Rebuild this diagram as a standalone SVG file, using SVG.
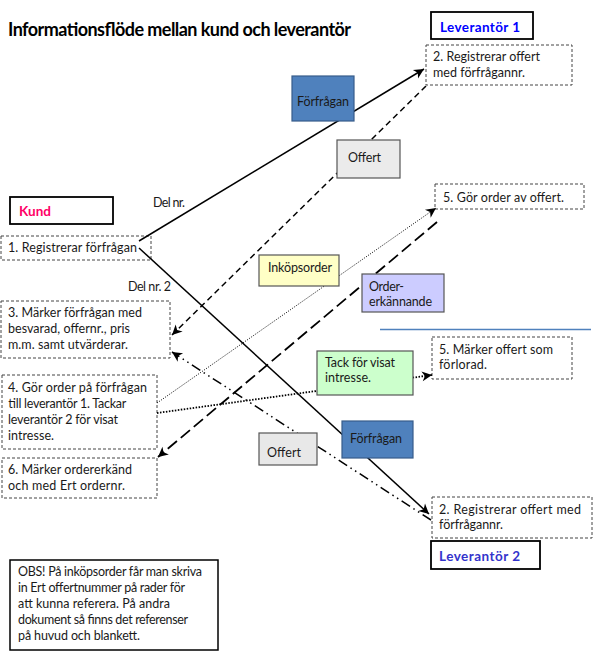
<svg xmlns="http://www.w3.org/2000/svg" width="596" height="657" viewBox="0 0 596 657">
<style>
text{font-family:Lato,"Liberation Sans","DejaVu Sans",sans-serif;font-size:12.5px;fill:#1a1a1a}
.title{font-size:18px;font-weight:bold;fill:#000}
.hdr{font-size:13.5px;font-weight:bold}
.tbox{fill:#fff;stroke:#444;stroke-width:1;stroke-dasharray:3 2}
.hbox{fill:#fff;stroke:#000;stroke-width:1.8}
.obs{fill:#fff;stroke:#000;stroke-width:1.5}
.c{fill:none;stroke:#000}
.lbl{stroke:#555;stroke-width:1.2}
</style>
<defs>
<marker id="ah" markerUnits="userSpaceOnUse" markerWidth="12" markerHeight="11" refX="10" refY="5" orient="auto" overflow="visible">
<path d="M0,0 L10,5 L0,10 L2.8,5 z" fill="#000"/>
</marker>
</defs>
<rect width="596" height="657" fill="#fff"/>
<text class="title" x="8" y="36" textLength="343">Informationsflöde mellan kund och leverantör</text>

<g id="leverantor1"><rect class="hbox" x="431" y="12" width="102" height="27"/><text class="hdr" x="440" y="31.5" style="fill:#0000ff" textLength="80">Leverantör 1</text></g>
<g id="l1-registrerar"><rect class="tbox" x="426" y="45" width="146" height="40"/><text x="433" y="61" textLength="107">2. Registrerar offert</text><text x="433" y="76.5" textLength="92">med förfrågannr.</text></g>
<g id="kund"><rect class="hbox" x="10" y="197" width="103" height="27"/><text class="hdr" x="19" y="215.5" style="fill:#ff0066" textLength="32">Kund</text></g>
<g id="k-registrerar"><rect class="tbox" x="1" y="236" width="150" height="24"/><text x="8" y="252" textLength="129">1. Registrerar förfrågan</text></g>
<g id="k-marker"><rect class="tbox" x="1" y="301" width="169" height="57"/><text x="8" y="317" textLength="134">3. Märker förfrågan med</text><text x="8" y="333" textLength="122">besvarad, offernr., pris</text><text x="8" y="349" textLength="120">m.m. samt utvärderar.</text></g>
<g id="k-order"><rect class="tbox" x="2" y="375" width="155" height="74"/><text x="8" y="392" textLength="139">4. Gör order på förfrågan</text><text x="8" y="408" textLength="118">till leverantör 1. Tackar</text><text x="8" y="424" textLength="110">leverantör 2 för visat</text><text x="8" y="440" textLength="46">intresse.</text></g>
<g id="k-ordererkand"><rect class="tbox" x="2" y="458" width="155" height="40"/><text x="8" y="474" textLength="124">6. Märker ordererkänd</text><text x="8" y="490" textLength="117">och med Ert ordernr.</text></g>
<g id="l1-order"><rect class="tbox" x="435" y="184" width="149" height="25"/><text x="443" y="201.5" textLength="121">5. Gör order av offert.</text></g>
<g id="l2-forlorad"><rect class="tbox" x="432" y="337" width="140" height="42"/><text x="439" y="354" textLength="114">5. Märker offert som</text><text x="439" y="369" textLength="48">förlorad.</text></g>
<g id="l2-registrerar"><rect class="tbox" x="432" y="497" width="160" height="41"/><text x="439" y="513.5" textLength="142">2. Registrerar offert med</text><text x="439" y="528.5" textLength="64">förfrågannr.</text></g>
<g id="leverantor2"><rect class="hbox" x="431" y="541" width="109" height="28"/><text class="hdr" x="439" y="560.5" style="fill:#3333cc" textLength="81">Leverantör 2</text></g>
<g id="obs"><rect class="obs" x="10" y="560" width="208" height="90"/><text x="18" y="576" textLength="184">OBS! På inköpsorder får man skriva</text><text x="18" y="592" textLength="167">in Ert offertnummer på rader för</text><text x="18" y="608" textLength="152">att kunna referera. På andra</text><text x="18" y="624" textLength="170">dokument så finns det referenser</text><text x="18" y="640" textLength="122">på huvud och blankett.</text></g>
<g id="divider"><line x1="380" y1="329.5" x2="591" y2="329.5" stroke="#4f81bd" stroke-width="1.3"/></g>

<g id="connectors">
<line class="c" x1="139" y1="241" x2="424" y2="69" stroke-width="1.5" marker-end="url(#ah)"/>
<line class="c" x1="426" y1="86" x2="172" y2="335" stroke-width="1.5" stroke-dasharray="6 4" marker-end="url(#ah)"/>
<line class="c" x1="431" y1="520" x2="172" y2="352" stroke-width="1.5" stroke-dasharray="10 4 1.5 4 1.5 4" marker-end="url(#ah)"/>
<line class="c" x1="139" y1="248" x2="429" y2="514" stroke-width="1.5" marker-end="url(#ah)"/>
<line class="c" x1="157" y1="403" x2="436" y2="208" stroke-width="1" stroke-dasharray="1 1.5" marker-end="url(#ah)"/>
<line class="c" x1="157" y1="413" x2="432" y2="375" stroke-width="1.8" stroke-dasharray="1.5 1.5" marker-end="url(#ah)"/>
<line class="c" x1="437" y1="222" x2="158" y2="457" stroke-width="1.8" stroke-dasharray="12 5" marker-end="url(#ah)"/>
<text x="153" y="207" textLength="32">Del nr.</text>
<text x="128" y="291" textLength="43">Del nr. 2</text>
</g>

<g id="forfragan1"><rect class="lbl" x="292" y="76" width="62" height="45" fill="#4f81bd" style="stroke:#385d8a"/><text x="297" y="105.5" textLength="52">Förfrågan</text></g>
<g id="offert1"><rect class="lbl" x="337" y="140" width="63" height="38" fill="#ebebeb"/><text x="348" y="162" textLength="33">Offert</text></g>
<g id="inkopsorder"><rect class="lbl" x="259" y="255" width="80" height="31" fill="#ffffc6"/><text x="268" y="271.5" textLength="64">Inköpsorder</text></g>
<g id="ordererkannande"><rect class="lbl" x="362" y="274" width="82" height="38" fill="#ccccff"/><text x="369" y="290.5" textLength="35">Order-</text><text x="369" y="305.5" textLength="63">erkännande</text></g>
<g id="tack"><rect class="lbl" x="317" y="351" width="96" height="44" fill="#ccffcc"/><text x="325" y="366.5" textLength="70">Tack för visat</text><text x="325" y="381.5" textLength="46">intresse.</text></g>
<g id="forfragan2"><rect class="lbl" x="342" y="421" width="71" height="37" fill="#4f81bd" style="stroke:#385d8a"/><text x="350" y="442.5" textLength="52">Förfrågan</text></g>
<g id="offert2"><rect class="lbl" x="259" y="433" width="58" height="32" fill="#e8e8e8"/><text x="267" y="456.5" textLength="34">Offert</text></g>
</svg>
